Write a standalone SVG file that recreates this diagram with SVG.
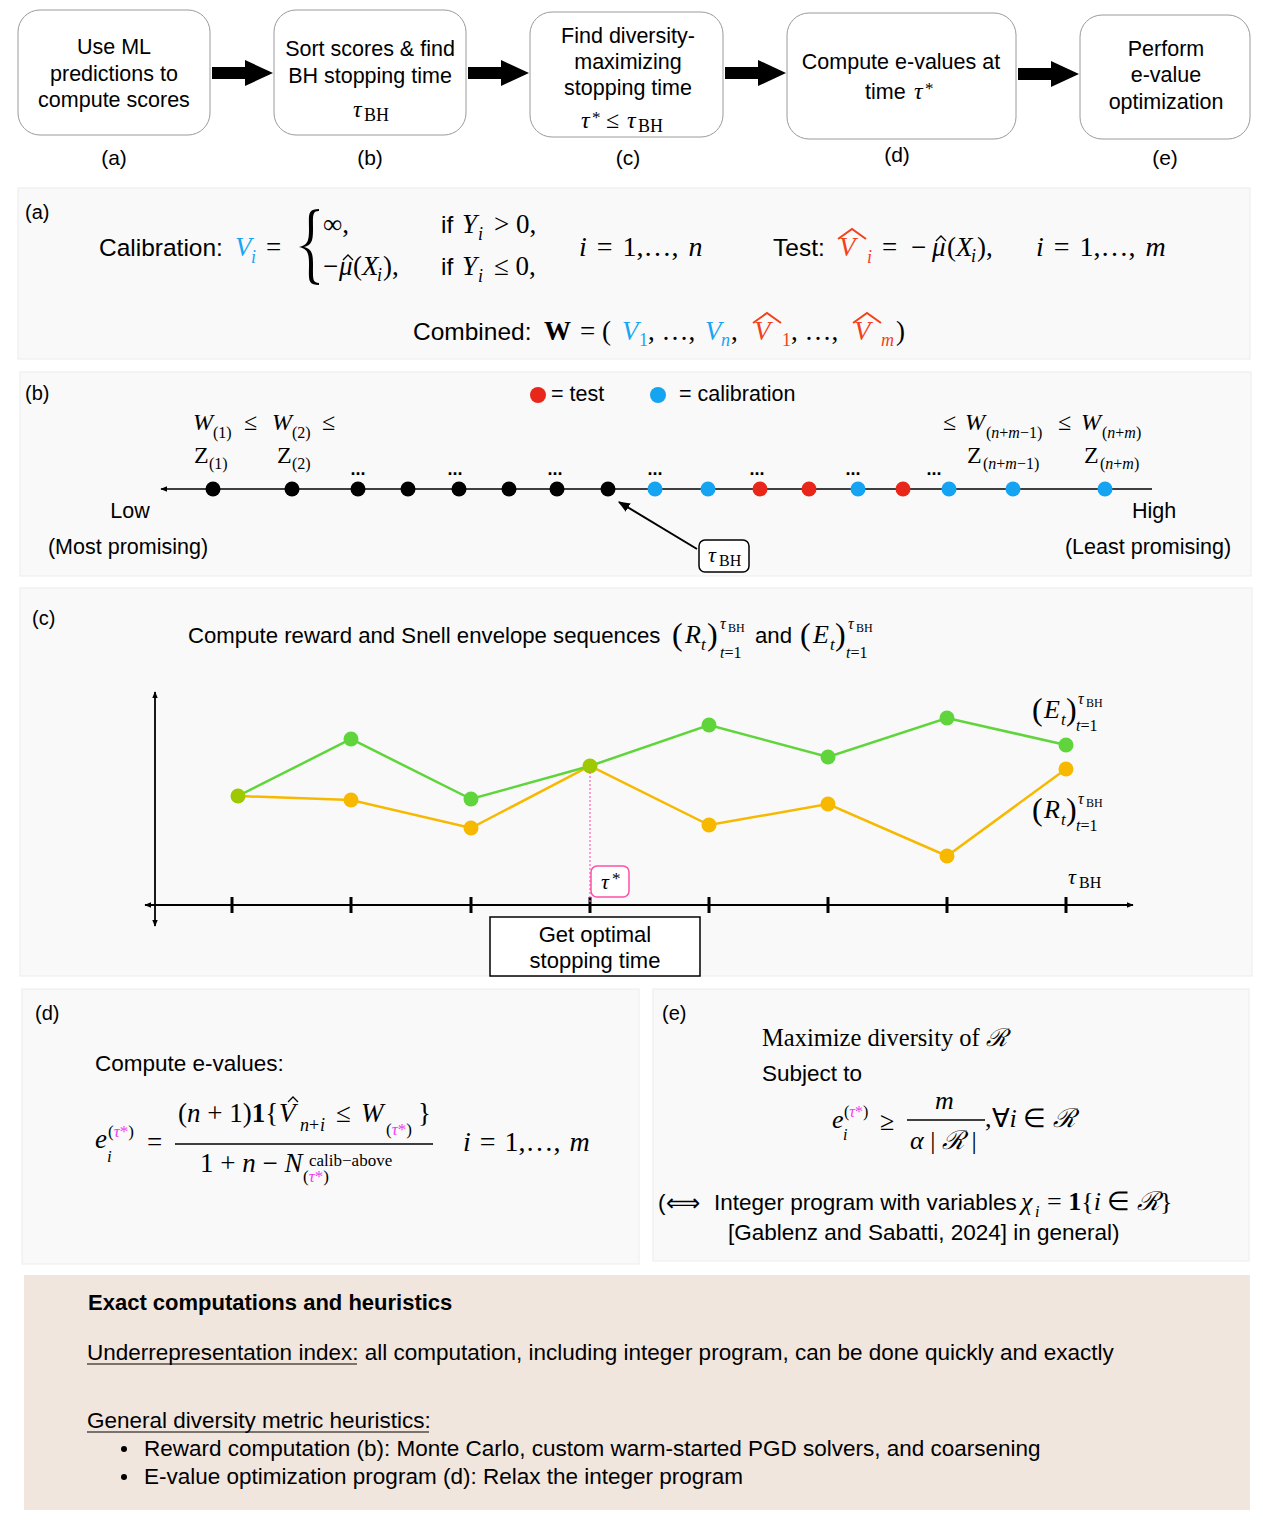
<svg xmlns="http://www.w3.org/2000/svg" width="1263" height="1526" viewBox="0 0 1263 1526">
<defs>
<style>
.s{font-family:"Liberation Sans",Arial,Helvetica,sans-serif;fill:#000}
.m{font-family:"Liberation Serif","Times New Roman",serif;fill:#000}
.i{font-style:italic}
.b{font-weight:bold}
.sc{font-family:"DejaVu Serif",serif;font-style:italic}
.box{fill:#fff;stroke:#9a9a9a;stroke-width:1}
.panel{fill:#f9f9f9;stroke:#ececec;stroke-width:1}
.blue{fill:#17a6f4}
.red{fill:#f2411a}
.mag{fill:#f23cf0}
.tb{font-size:21.5px;text-anchor:middle}
.lab{font-size:21px;text-anchor:middle}
.hatr{fill:none;stroke:#f2411a;stroke-width:2}
.hat{fill:none;stroke:#000;stroke-width:1.3}
</style>
<marker id="ah" viewBox="0 0 10 10" refX="9" refY="5" markerWidth="7" markerHeight="7" orient="auto-start-reverse" markerUnits="userSpaceOnUse">
<path d="M0,1 L10,5 L0,9 z" fill="#000"/>
</marker>
<marker id="ah2" viewBox="0 0 10 10" refX="9" refY="5" markerWidth="12" markerHeight="12" orient="auto-start-reverse" markerUnits="userSpaceOnUse">
<path d="M0,1 L10,5 L0,9 z" fill="#000"/>
</marker>
</defs>
<rect width="1263" height="1526" fill="#fff"/>

<!-- Top flow nodes -->
<g id="node-a">
<rect class="box" x="18" y="10" width="192" height="125" rx="22"/>
<text class="s tb" x="114" y="54">Use ML</text>
<text class="s tb" x="114" y="81">predictions to</text>
<text class="s tb" x="114" y="107">compute scores</text>
<text class="s lab" x="114" y="165">(a)</text>
</g>
<g id="node-b">
<rect class="box" x="274" y="10" width="192" height="125" rx="22"/>
<text class="s tb" x="370" y="56">Sort scores &amp; find</text>
<text class="s tb" x="370" y="83">BH stopping time</text>
<text class="m i" x="353" y="117" font-size="24">τ</text><text class="m" x="364" y="121" font-size="18">BH</text>
<text class="s lab" x="370" y="165">(b)</text>
</g>
<g id="node-c">
<rect class="box" x="530" y="12" width="193" height="125" rx="22"/>
<text class="s tb" x="628" y="43">Find diversity-</text>
<text class="s tb" x="628" y="69">maximizing</text>
<text class="s tb" x="628" y="95">stopping time</text>
<text class="m i" x="581" y="128" font-size="24">τ</text><text class="m" x="592" y="123" font-size="17">*</text><text class="m" x="606" y="128" font-size="24">≤</text><text class="m i" x="627" y="128" font-size="24">τ</text><text class="m" x="638" y="132" font-size="18">BH</text>
<text class="s lab" x="628" y="165">(c)</text>
</g>
<g id="node-d">
<rect class="box" x="787" y="13" width="229" height="126" rx="22"/>
<text class="s tb" x="901" y="69">Compute e-values at</text>
<text class="s" x="865" y="99" font-size="21.5">time</text><text class="m i" x="914" y="99" font-size="24">τ</text><text class="m" x="925" y="94" font-size="17">*</text>
<text class="s lab" x="897" y="162">(d)</text>
</g>
<g id="node-e">
<rect class="box" x="1080" y="15" width="170" height="124" rx="22"/>
<text class="s tb" x="1166" y="56">Perform</text>
<text class="s tb" x="1166" y="82">e-value</text>
<text class="s tb" x="1166" y="109">optimization</text>
<text class="s lab" x="1165" y="165">(e)</text>
</g>

<g id="connectors">
<path d="M212,67 H245 V60 L273,73 L245,86 V79 H212 Z" fill="#000"/>
<path d="M468,67 H501 V60 L529,73 L501,86 V79 H468 Z" fill="#000"/>
<path d="M725,67 H758 V60 L786,73 L758,86 V79 H725 Z" fill="#000"/>
<path d="M1018,68 H1051 V61 L1079,74 L1051,87 V80 H1018 Z" fill="#000"/>
</g>

<!-- Panel (a) -->
<g id="panel-a">
<rect class="panel" x="18" y="188" width="1232" height="171"/>
<text class="s" x="25" y="219" font-size="20">(a)</text>
<text class="s" x="99" y="256" font-size="24.5">Calibration:</text>
<text class="m i blue" x="235" y="256" font-size="27">V</text><text class="m i blue" x="251" y="263" font-size="18">i</text>
<text class="m" x="266" y="256" font-size="27">=</text>
<path d="M319,209 C307,209 309,215 309,230 C309,242 307,245 299,247 C307,249 309,252 309,264 C309,279 307,285 319,285 L319,283 C312,283 313,278 313,264 C313,252 311,249 304,247 C311,245 313,242 313,230 C313,216 312,211 319,211 Z" fill="#000"/>
<text class="m" x="323" y="233" font-size="27">∞,</text>
<text class="m" x="323" y="275" font-size="27">−</text><text class="m i" x="339" y="275" font-size="27">μ</text><path class="hat" d="M343,260 L348,255 L353,260"/>
<text class="m" x="353" y="275" font-size="27">(</text><text class="m i" x="362" y="275" font-size="27">X</text><text class="m i" x="377" y="281" font-size="18">i</text><text class="m" x="383" y="275" font-size="27">),</text>
<text class="s" x="441" y="233" font-size="24.5">if</text><text class="m i" x="462" y="233" font-size="27">Y</text><text class="m i" x="478" y="240" font-size="18">i</text><text class="m" x="494" y="233" font-size="27">&gt; 0,</text>
<text class="s" x="441" y="275" font-size="24.5">if</text><text class="m i" x="462" y="275" font-size="27">Y</text><text class="m i" x="478" y="282" font-size="18">i</text><text class="m" x="494" y="275" font-size="27">≤ 0,</text>
<text class="m" x="579" y="256" font-size="28" word-spacing="3"><tspan font-style="italic">i</tspan> = 1,…, <tspan font-style="italic">n</tspan></text>
<text class="s" x="773" y="256" font-size="24.5">Test:</text>
<text class="m i red" x="839" y="256" font-size="27">V</text><path class="hatr" d="M838,239 L852,229 L866,239"/><text class="m i red" x="867" y="263" font-size="18">i</text>
<text class="m" x="882" y="256" font-size="27">=</text><text class="m" x="911" y="256" font-size="27">−</text>
<text class="m i" x="932" y="256" font-size="27">μ</text><path class="hat" d="M936,241 L941,236 L946,241"/>
<text class="m" x="947" y="256" font-size="27">(</text><text class="m i" x="956" y="256" font-size="27">X</text><text class="m i" x="971" y="262" font-size="18">i</text><text class="m" x="977" y="256" font-size="27">),</text>
<text class="m" x="1036" y="256" font-size="28" word-spacing="3"><tspan font-style="italic">i</tspan> = 1,…, <tspan font-style="italic">m</tspan></text>
<text class="s" x="413" y="340" font-size="24.5">Combined:</text>
<text class="m b" x="544" y="340" font-size="27">W</text>
<text class="m" x="580" y="340" font-size="27">= (</text>
<text class="m i blue" x="622" y="340" font-size="27">V</text><text class="m blue" x="639" y="346" font-size="18">1</text>
<text class="m" x="648" y="340" font-size="27">, …,</text>
<text class="m i blue" x="705" y="340" font-size="27">V</text><text class="m i blue" x="721" y="346" font-size="18">n</text>
<text class="m" x="731" y="340" font-size="27">,</text>
<text class="m i red" x="754" y="340" font-size="27">V</text><path class="hatr" d="M753,323 L767,313 L781,323"/><text class="m red" x="782" y="346" font-size="18">1</text>
<text class="m" x="791" y="340" font-size="27">, …,</text>
<text class="m i red" x="854" y="340" font-size="27">V</text><path class="hatr" d="M853,323 L867,313 L881,323"/><text class="m i red" x="881" y="346" font-size="18">m</text>
<text class="m" x="896" y="340" font-size="27">)</text>
</g>

<!-- Panel (b) -->
<g id="panel-b">
<rect class="panel" x="20" y="372" width="1231" height="204"/>
<text class="s" x="25" y="400" font-size="20">(b)</text>
<circle cx="538" cy="395" r="8" fill="#e8261a"/>
<text class="s" x="551" y="401" font-size="21.5">= test</text>
<circle cx="658" cy="395" r="8" fill="#14a4f2"/>
<text class="s" x="679" y="401" font-size="21.5">= calibration</text>
<text class="m i" x="193" y="430" font-size="24">W</text><text class="m" x="213" y="438" font-size="16">(1)</text><text class="m" x="244" y="430" font-size="24">≤</text>
<text class="m i" x="272" y="430" font-size="24">W</text><text class="m" x="292" y="438" font-size="16">(2)</text><text class="m" x="322" y="430" font-size="24">≤</text>
<text class="m" x="194" y="463" font-size="24">Z</text><text class="m" x="209" y="469" font-size="16">(1)</text>
<text class="m" x="277" y="463" font-size="24">Z</text><text class="m" x="292" y="469" font-size="16">(2)</text>
<text class="m" x="943" y="430" font-size="24">≤</text><text class="m i" x="965" y="430" font-size="24">W</text><text class="m" x="986" y="438" font-size="16">(<tspan font-style="italic">n</tspan>+<tspan font-style="italic">m</tspan>−1)</text>
<text class="m" x="1058" y="430" font-size="24">≤</text><text class="m i" x="1081" y="430" font-size="24">W</text><text class="m" x="1102" y="438" font-size="16">(<tspan font-style="italic">n</tspan>+<tspan font-style="italic">m</tspan>)</text>
<text class="m" x="967" y="463" font-size="24">Z</text><text class="m" x="983" y="469" font-size="16">(<tspan font-style="italic">n</tspan>+<tspan font-style="italic">m</tspan>−1)</text>
<text class="m" x="1084" y="463" font-size="24">Z</text><text class="m" x="1100" y="469" font-size="16">(<tspan font-style="italic">n</tspan>+<tspan font-style="italic">m</tspan>)</text>
<g class="s b" font-size="18" text-anchor="middle">
<text x="358" y="475">...</text><text x="455" y="475">...</text><text x="555" y="475">...</text><text x="655" y="475">...</text><text x="757" y="475">...</text><text x="853" y="475">...</text><text x="934" y="475">...</text>
</g>
<line x1="1152" y1="489" x2="161" y2="489" stroke="#000" stroke-width="1.5" marker-end="url(#ah)"/>
<g fill="#000">
<circle cx="213" cy="489" r="7.5"/><circle cx="292" cy="489" r="7.5"/><circle cx="358" cy="489" r="7.5"/><circle cx="408" cy="489" r="7.5"/><circle cx="459" cy="489" r="7.5"/><circle cx="509" cy="489" r="7.5"/><circle cx="557" cy="489" r="7.5"/><circle cx="608" cy="489" r="7.5"/>
</g>
<g fill="#14a4f2">
<circle cx="655" cy="489" r="7.5"/><circle cx="708" cy="489" r="7.5"/><circle cx="858" cy="489" r="7.5"/><circle cx="949" cy="489" r="7.5"/><circle cx="1013" cy="489" r="7.5"/><circle cx="1105" cy="489" r="7.5"/>
</g>
<g fill="#e8261a">
<circle cx="760" cy="489" r="7.5"/><circle cx="809" cy="489" r="7.5"/><circle cx="903" cy="489" r="7.5"/>
</g>
<text class="s" x="130" y="518" font-size="21.5" text-anchor="middle">Low</text>
<text class="s" x="128" y="554" font-size="21.5" text-anchor="middle">(Most promising)</text>
<text class="s" x="1154" y="518" font-size="21.5" text-anchor="middle">High</text>
<text class="s" x="1148" y="554" font-size="21.5" text-anchor="middle">(Least promising)</text>
<line x1="697" y1="549" x2="619" y2="502" stroke="#000" stroke-width="2" marker-end="url(#ah2)"/>
<rect x="699" y="540" width="50" height="32" rx="6" fill="#fff" stroke="#000" stroke-width="1.5"/>
<text class="m i" x="708" y="562" font-size="22">τ</text><text class="m" x="719" y="566" font-size="16">BH</text>
</g>

<!-- Panel (c) -->
<g id="panel-c">
<rect class="panel" x="20" y="588" width="1232" height="388"/>
<text class="s" x="32" y="625" font-size="20">(c)</text>
<text class="s" x="188" y="643" font-size="22.2">Compute reward and Snell envelope sequences</text>
<g fill="#f7a21a">
<text class="m" x="672" y="645" font-size="32" fill="#f7a21a">(</text><text class="m i" x="685" y="643" font-size="26" fill="#f7a21a">R</text><text class="m i" x="701" y="650" font-size="17" fill="#f7a21a">t</text><text class="m" x="707" y="645" font-size="32" fill="#f7a21a">)</text>
<text class="m i" x="720" y="629" font-size="16" fill="#f7a21a">τ</text><text class="m" x="728" y="632" font-size="12" fill="#f7a21a">BH</text>
<text class="m" x="720" y="658" font-size="16" fill="#f7a21a"><tspan font-style="italic">t</tspan>=1</text>
</g>
<text class="s" x="755" y="643" font-size="22.2">and</text>
<g>
<text class="m" x="800" y="645" font-size="32" fill="#3fc22a">(</text><text class="m i" x="813" y="643" font-size="26" fill="#3fc22a">E</text><text class="m i" x="830" y="650" font-size="17" fill="#3fc22a">t</text><text class="m" x="835" y="645" font-size="32" fill="#3fc22a">)</text>
<text class="m i" x="848" y="629" font-size="16" fill="#3fc22a">τ</text><text class="m" x="856" y="632" font-size="12" fill="#3fc22a">BH</text>
<text class="m" x="846" y="658" font-size="16" fill="#3fc22a"><tspan font-style="italic">t</tspan>=1</text>
</g>
<!-- axes -->
<line x1="155" y1="926" x2="155" y2="692" stroke="#000" stroke-width="1.8" marker-start="url(#ah)" marker-end="url(#ah)"/>
<line x1="145" y1="905" x2="1133" y2="905" stroke="#000" stroke-width="1.8" marker-start="url(#ah)" marker-end="url(#ah)"/>
<g stroke="#000" stroke-width="3">
<line x1="232" y1="897" x2="232" y2="913"/><line x1="351" y1="897" x2="351" y2="913"/><line x1="471" y1="897" x2="471" y2="913"/><line x1="590" y1="897" x2="590" y2="913"/><line x1="709" y1="897" x2="709" y2="913"/><line x1="828" y1="897" x2="828" y2="913"/><line x1="947" y1="897" x2="947" y2="913"/><line x1="1066" y1="897" x2="1066" y2="913"/>
</g>
<polyline points="238,796 351,800 471,828 590,766 709,825 828,804 947,856 1066,769" fill="none" stroke="#f7b900" stroke-width="2.5"/>
<polyline points="238,796 351,739 471,799 590,766 709,725 828,757 947,718 1066,745" fill="none" stroke="#5fd53b" stroke-width="2.5"/>
<g fill="#f7b900">
<circle cx="351" cy="800" r="7.5"/><circle cx="471" cy="828" r="7.5"/><circle cx="709" cy="825" r="7.5"/><circle cx="828" cy="804" r="7.5"/><circle cx="947" cy="856" r="7.5"/><circle cx="1066" cy="769" r="7.5"/>
</g>
<g fill="#5fd53b">
<circle cx="351" cy="739" r="7.5"/><circle cx="471" cy="799" r="7.5"/><circle cx="709" cy="725" r="7.5"/><circle cx="828" cy="757" r="7.5"/><circle cx="947" cy="718" r="7.5"/><circle cx="1066" cy="745" r="7.5"/>
</g>
<g fill="#9ec800">
<circle cx="238" cy="796" r="7.5"/><circle cx="590" cy="766" r="7.5"/>
</g>
<line x1="590" y1="772" x2="590" y2="903" stroke="#ff5db4" stroke-width="1.2" stroke-dasharray="2,2"/>
<rect x="591" y="866" width="38" height="31" rx="6" fill="#fff" stroke="#ff4fa6" stroke-width="1.5"/>
<text class="m i" x="601" y="889" font-size="22" fill="#ff3fa8">τ</text><text class="m" x="612" y="884" font-size="17" fill="#ff3fa8">*</text>
<text class="m i" x="1068" y="884" font-size="22">τ</text><text class="m" x="1079" y="888" font-size="16">BH</text>
<text class="m" x="1032" y="720" font-size="32" fill="#3fc22a">(</text><text class="m i" x="1044" y="718" font-size="26" fill="#3fc22a">E</text><text class="m i" x="1061" y="725" font-size="17" fill="#3fc22a">t</text><text class="m" x="1066" y="720" font-size="32" fill="#3fc22a">)</text>
<text class="m i" x="1078" y="704" font-size="16" fill="#3fc22a">τ</text><text class="m" x="1086" y="707" font-size="12" fill="#3fc22a">BH</text>
<text class="m" x="1076" y="731" font-size="16" fill="#3fc22a"><tspan font-style="italic">t</tspan>=1</text>
<text class="m" x="1032" y="820" font-size="32" fill="#f7a21a">(</text><text class="m i" x="1044" y="818" font-size="26" fill="#f7a21a">R</text><text class="m i" x="1061" y="825" font-size="17" fill="#f7a21a">t</text><text class="m" x="1066" y="820" font-size="32" fill="#f7a21a">)</text>
<text class="m i" x="1078" y="804" font-size="16" fill="#f7a21a">τ</text><text class="m" x="1086" y="807" font-size="12" fill="#f7a21a">BH</text>
<text class="m" x="1076" y="831" font-size="16" fill="#f7a21a"><tspan font-style="italic">t</tspan>=1</text>
<rect x="490" y="917" width="210" height="59" fill="#fff" stroke="#000" stroke-width="1.5"/>
<text class="s" x="595" y="942" font-size="22" text-anchor="middle">Get optimal</text>
<text class="s" x="595" y="968" font-size="22" text-anchor="middle">stopping time</text>
</g>

<!-- Panel (d) -->
<g id="panel-d">
<rect class="panel" x="22" y="989" width="617" height="275"/>
<text class="s" x="35" y="1020" font-size="20">(d)</text>
<text class="s" x="95" y="1071" font-size="22.5">Compute e-values:</text>
<text class="m i" x="95" y="1148" font-size="27">e</text><text class="m i" x="107" y="1162" font-size="17">i</text>
<text class="m" x="108" y="1137" font-size="17">(<tspan class="mag" font-style="italic">τ</tspan><tspan class="mag">*</tspan>)</text>
<text class="m" x="147" y="1151" font-size="27">=</text>
<line x1="175" y1="1144" x2="433" y2="1144" stroke="#000" stroke-width="1.5"/>
<text class="m" x="178" y="1122" font-size="27">(<tspan font-style="italic">n</tspan> + 1)<tspan font-weight="bold">1</tspan>{</text>
<text class="m i" x="279" y="1122" font-size="27">V</text><path class="hat" d="M288,1102 L293,1097 L298,1102"/>
<text class="m i" x="300" y="1131" font-size="18">n</text><text class="m" x="309" y="1131" font-size="18">+</text><text class="m i" x="320" y="1131" font-size="18">i</text>
<text class="m" x="336" y="1122" font-size="27">≤</text>
<text class="m i" x="361" y="1122" font-size="27">W</text>
<text class="m" x="386" y="1135" font-size="17">(<tspan class="mag" font-style="italic">τ</tspan><tspan class="mag">*</tspan>)</text>
<text class="m" x="418" y="1122" font-size="27">}</text>
<text class="m" x="200" y="1172" font-size="27">1 + <tspan font-style="italic">n</tspan> − <tspan font-style="italic">N</tspan></text>
<text class="m" x="309" y="1166" font-size="17">calib−above</text>
<text class="m" x="303" y="1182" font-size="17">(<tspan class="mag" font-style="italic">τ</tspan><tspan class="mag">*</tspan>)</text>
<text class="m" x="463" y="1151" font-size="28" word-spacing="2"><tspan font-style="italic">i</tspan> = 1,…, <tspan font-style="italic">m</tspan></text>
</g>

<!-- Panel (e) -->
<g id="panel-e">
<rect class="panel" x="653" y="989" width="596" height="272"/>
<text class="s" x="662" y="1020" font-size="20">(e)</text>
<text class="m" x="762" y="1046" font-size="24.5">Maximize diversity of <tspan class="sc">ℛ</tspan></text>
<text class="s" x="762" y="1081" font-size="22.5">Subject to</text>
<text class="m i" x="832" y="1128" font-size="26">e</text><text class="m i" x="843" y="1140" font-size="16">i</text>
<text class="m" x="844" y="1117" font-size="16">(<tspan class="mag" font-style="italic">τ</tspan><tspan class="mag">*</tspan>)</text>
<text class="m" x="880" y="1130" font-size="26">≥</text>
<text class="m i" x="935" y="1109" font-size="26">m</text>
<line x1="907" y1="1120" x2="985" y2="1120" stroke="#000" stroke-width="1.5"/>
<text class="m" x="910" y="1149" font-size="26"><tspan font-style="italic">α</tspan> | <tspan class="sc">ℛ</tspan> |</text>
<text class="m" x="985" y="1127" font-size="26">,∀<tspan font-style="italic">i</tspan> ∈ <tspan class="sc">ℛ</tspan></text>
<text class="s" x="658" y="1210" font-size="22.5">(</text><text x="666" y="1211" font-size="24" font-family="'DejaVu Sans',sans-serif">⟺</text>
<text class="s" x="714" y="1210" font-size="22.5">Integer program with variables</text>
<text class="m i" x="1021" y="1210" font-size="26">χ</text><text class="m i" x="1035" y="1217" font-size="16">i</text>
<text class="m" x="1047" y="1210" font-size="26">= <tspan font-weight="bold">1</tspan>{<tspan font-style="italic">i</tspan> ∈ <tspan class="sc">ℛ</tspan>}</text>
<text class="s" x="728" y="1240" font-size="22.5">[Gablenz and Sabatti, 2024] in general)</text>
</g>

<!-- Bottom panel -->
<g id="panel-notes">
<rect x="24" y="1275" width="1226" height="235" fill="#f1e6dd"/>
<text class="s b" x="88" y="1310" font-size="22">Exact computations and heuristics</text>
<text class="s" x="87" y="1360" font-size="22.5">Underrepresentation index: all computation, including integer program, can be done quickly and exactly</text>
<line x1="87" y1="1364" x2="357" y2="1364" stroke="#000" stroke-width="1"/>
<text class="s" x="87" y="1428" font-size="22.5">General diversity metric heuristics:</text>
<line x1="87" y1="1432" x2="429" y2="1432" stroke="#000" stroke-width="1"/>
<circle cx="124" cy="1449" r="3" fill="#000"/>
<text class="s" x="144" y="1456" font-size="22.5">Reward computation (b): Monte Carlo, custom warm-started PGD solvers, and coarsening</text>
<circle cx="124" cy="1477" r="3" fill="#000"/>
<text class="s" x="144" y="1484" font-size="22.5">E-value optimization program (d): Relax the integer program</text>
</g>
</svg>
